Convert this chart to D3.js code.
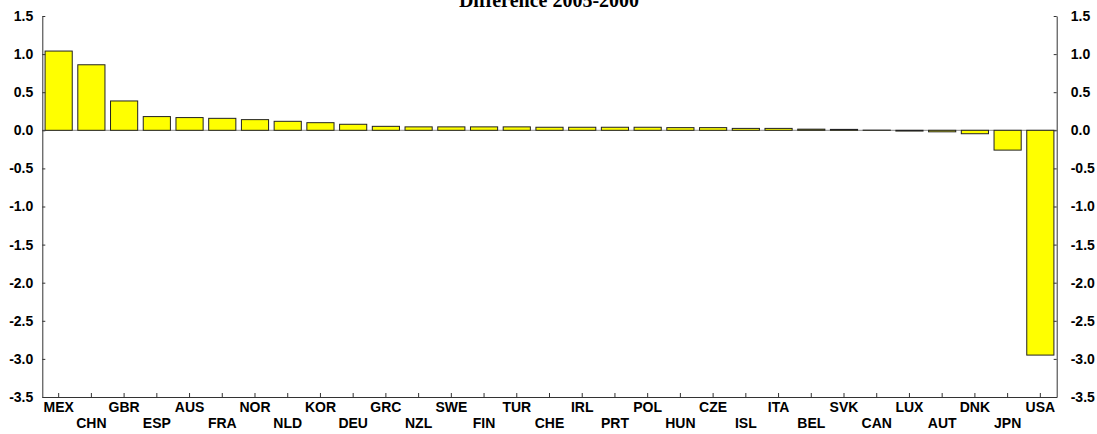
<!DOCTYPE html>
<html><head><meta charset="utf-8">
<script src="https://cdn.jsdelivr.net/npm/d3@7"></script>
<style>body{margin:0;background:#fff}svg{display:block}</style>
</head><body><svg id="c" width="1097" height="434"></svg>
<script>
const categories = ["MEX","CHN","GBR","ESP","AUS","FRA","NOR","NLD","KOR","DEU","GRC","NZL","SWE","FIN","TUR","CHE","IRL","PRT","POL","HUN","CZE","ISL","ITA","BEL","SVK","CAN","LUX","AUT","DNK","JPN","USA"];
const values = [1.04,0.86,0.385,0.18,0.167,0.157,0.14,0.118,0.10,0.079,0.052,0.045,0.045,0.045,0.045,0.04,0.04,0.04,0.04,0.035,0.035,0.025,0.025,0.015,0.012,0.002,-0.01,-0.02,-0.045,-0.26,-2.95];
const yTicks = [1.5,1.0,0.5,0.0,-0.5,-1.0,-1.5,-2.0,-2.5,-3.0,-3.5];
const title = "Difference 2005-2000";

const svg = d3.select("#c");
const L = 42.3, R = 1056.7, T = 16, B = 397;
const x = d3.scaleBand().domain(categories).range([L, R]).paddingInner(0.17).paddingOuter(0.085);
const y = d3.scaleLinear().domain([-3.5, 1.5]).range([B, T]);
const fmt = d => d3.format(".1f")(d).replace("\u2212", "-");

svg.append("text").attr("x", 549).attr("y", 6.5).attr("text-anchor", "middle")
  .attr("font-family", "Liberation Serif, Times New Roman, serif").attr("font-weight", "bold")
  .attr("font-size", 20).text(title);

// zero line
svg.append("line").attr("x1", L).attr("x2", R).attr("y1", y(0)).attr("y2", y(0))
  .attr("stroke", "#888").attr("stroke-width", 1);

svg.append("g").selectAll("rect").data(categories).join("rect")
  .attr("x", d => x(d))
  .attr("width", x.bandwidth())
  .attr("y", (d, i) => y(Math.max(0, values[i])))
  .attr("height", (d, i) => Math.abs(y(values[i]) - y(0)))
  .attr("fill", "#ffff00").attr("stroke", "#222").attr("stroke-width", 1);

const font = "Liberation Sans, Arial, sans-serif";
const leftAxis = d3.axisLeft(y).tickValues(yTicks).tickFormat(fmt).tickSizeInner(-3).tickSizeOuter(0).tickPadding(9);
const gl = svg.append("g").attr("transform", `translate(${L},0)`).call(leftAxis);
const rightAxis = d3.axisRight(y).tickValues(yTicks).tickFormat(fmt).tickSizeInner(-3).tickSizeOuter(0).tickPadding(14);
const gr = svg.append("g").attr("transform", `translate(${R},0)`).call(rightAxis);
const bottomAxis = d3.axisBottom(x).tickSizeInner(-4).tickSizeOuter(0).tickPadding(0);
const gb = svg.append("g").attr("transform", `translate(0,${B})`).call(bottomAxis);

[gl, gr, gb].forEach(g => {
  g.selectAll("path.domain").attr("stroke", "#333");
  g.selectAll(".tick line").attr("stroke", "#333");
  g.selectAll("text").attr("font-family", font).attr("font-weight", "bold").attr("font-size", 14).attr("fill", "#000");
});
gl.selectAll(".tick line").attr("x2", 3);
gb.selectAll(".tick text").attr("dy", null).attr("y", (d, i) => i % 2 === 0 ? 15 : 31);
</script></body></html>
